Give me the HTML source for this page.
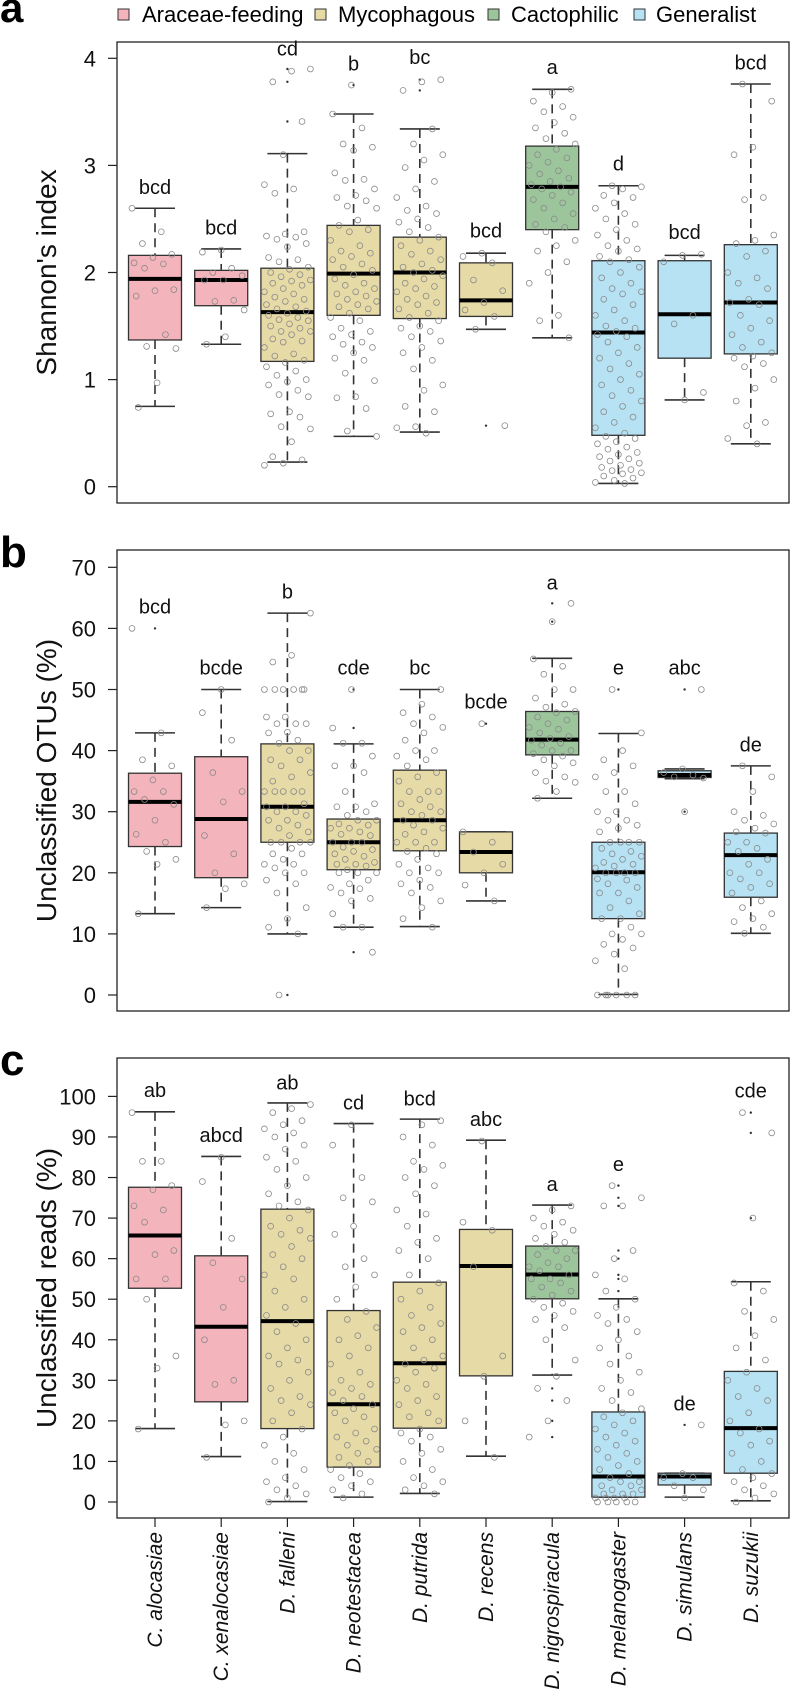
<!DOCTYPE html>
<html><head><meta charset="utf-8">
<style>
html,body{margin:0;padding:0;background:#fff;}
svg{display:block;font-family:"Liberation Sans",Arial,sans-serif;}
</style></head>
<body>
<svg id="fig" xmlns="http://www.w3.org/2000/svg" width="791" height="1694" viewBox="0 0 791 1694">
  <g font-size="22">
    <rect x="118" y="9" width="11" height="11" fill="#f4b4bc" stroke="#333"/>
    <text x="142" y="22">Araceae-feeding</text>
    <rect x="315" y="9" width="11" height="11" fill="#e6daa6" stroke="#333"/>
    <text x="338" y="22">Mycophagous</text>
    <rect x="488" y="9" width="11" height="11" fill="#9dc59c" stroke="#333"/>
    <text x="511" y="22">Cactophilic</text>
    <rect x="634" y="9" width="11" height="11" fill="#b6e2f4" stroke="#333"/>
    <text x="656" y="22">Generalist</text>
  </g>
</svg>
<script>
// ---- data ----
const categories = ["C. alocasiae","C. xenalocasiae","D. falleni","D. neotestacea","D. putrida","D. recens","D. nigrospiracula","D. melanogaster","D. simulans","D. suzukii"];
const groups = ["araceae","araceae","myco","myco","myco","myco","cacto","gen","gen","gen"];

// Panel a: Shannon's index  [whiskerLow, Q1, median, Q3, whiskerHigh]
const aLow = [0.75,1.33,0.23,0.47,0.51,1.47,1.39,0.03,0.81,0.40];
const aQ1 = [1.37,1.69,1.17,1.60,1.57,1.59,2.40,0.48,1.20,1.24];
const aMed = [1.94,1.93,1.63,1.99,2.00,1.74,2.80,1.44,1.61,1.72];
const aQ3 = [2.16,2.02,2.04,2.44,2.33,2.09,3.18,2.11,2.11,2.26];
const aHigh = [2.60,2.22,3.11,3.48,3.34,2.18,3.71,2.81,2.16,3.76];
const aLetters = ["bcd","bcd","cd","b","bc","bcd","a","d","bcd","bcd"];
const aLetterPos = [2.80,2.42,4.09,3.95,4.01,2.39,3.92,3.02,2.38,3.96];
const aOutliers = [[],[],[3.9,3.78,3.41],[3.75],[3.8,3.7],[0.57],[],[],[],[]];
const aTicks = [0,1,2,3,4];
const aPoints = [
 [2.6,2.38,2.27,2.17,2.14,2.09,2.08,2.04,1.84,1.83,1.78,1.42,1.31,1.29,0.97,0.74],
 [2.21,2.19,2.04,2.0,1.97,1.93,1.93,1.74,1.73,1.65,1.40,1.33],
 [3.9,3.88,3.78,3.41,3.1,2.82,2.78,2.74,2.38,2.36,2.34,2.33,2.31,2.27,2.24,2.14,2.12,2.1,2.05,2.03,2.0,1.98,1.96,1.93,1.92,1.9,1.88,1.85,1.82,1.8,1.77,1.75,1.73,1.7,1.68,1.66,1.64,1.62,1.6,1.58,1.56,1.55,1.52,1.5,1.48,1.45,1.45,1.42,1.38,1.36,1.35,1.3,1.24,1.22,1.18,1.16,1.12,1.08,1.04,1.0,0.98,0.95,0.9,0.86,0.84,0.7,0.68,0.65,0.56,0.54,0.42,0.28,0.25,0.22,0.2],
 [3.75,3.48,3.35,3.2,3.17,3.14,2.93,2.87,2.86,2.78,2.72,2.7,2.67,2.62,2.6,2.49,2.44,2.4,2.38,2.3,2.25,2.2,2.18,2.15,2.12,2.08,2.05,2.02,1.98,1.94,1.9,1.88,1.85,1.82,1.8,1.78,1.75,1.73,1.7,1.68,1.66,1.62,1.58,1.55,1.48,1.45,1.42,1.4,1.35,1.33,1.3,1.25,1.2,1.18,1.06,0.99,0.84,0.83,0.73,0.52,0.47],
 [3.8,3.78,3.7,3.34,3.2,3.1,3.05,2.98,2.85,2.78,2.7,2.62,2.58,2.55,2.5,2.47,2.42,2.38,2.33,2.3,2.25,2.2,2.17,2.12,2.08,2.05,2.02,2.0,1.97,1.94,1.9,1.87,1.85,1.82,1.78,1.75,1.72,1.7,1.66,1.62,1.58,1.55,1.5,1.48,1.45,1.4,1.36,1.3,1.25,1.18,1.1,0.95,0.9,0.75,0.7,0.56,0.55,0.5],
 [2.18,2.15,2.09,1.93,1.83,1.72,1.65,1.59,1.47,0.57],
 [3.71,3.68,3.6,3.55,3.5,3.45,3.4,3.35,3.3,3.25,3.2,3.15,3.1,3.07,3.03,3.0,2.95,2.92,2.88,2.85,2.82,2.8,2.78,2.75,2.72,2.68,2.65,2.6,2.55,2.5,2.45,2.42,2.38,2.3,2.25,2.2,2.1,2.0,1.9,1.6,1.55,1.39],
 [2.81,2.8,2.78,2.72,2.7,2.65,2.6,2.55,2.5,2.45,2.4,2.35,2.3,2.25,2.22,2.2,2.15,2.12,2.1,2.05,2.0,1.95,1.9,1.85,1.82,1.8,1.75,1.7,1.65,1.6,1.55,1.5,1.48,1.45,1.42,1.4,1.35,1.3,1.25,1.2,1.15,1.1,1.05,1.0,0.95,0.9,0.85,0.8,0.75,0.7,0.65,0.6,0.55,0.5,0.47,0.45,0.42,0.4,0.37,0.35,0.32,0.3,0.28,0.26,0.24,0.22,0.2,0.18,0.16,0.15,0.13,0.12,0.1,0.08,0.06,0.04,0.03],
 [2.17,2.16,2.1,1.6,1.52,0.88,0.81],
 [3.76,3.6,3.17,3.1,2.7,2.68,2.35,2.3,2.27,2.2,2.15,2.0,1.95,1.9,1.85,1.75,1.72,1.7,1.6,1.55,1.48,1.42,1.35,1.3,1.25,1.22,1.2,1.15,1.12,1.0,0.92,0.8,0.6,0.57,0.45,0.4]
];

// Panel b: Unclassified OTUs (%)
const bLow = [13.3,14.3,10.0,11.1,11.2,15.4,32.2,0.1,35.4,10.1];
const bQ1 = [24.3,19.2,25.0,20.5,23.6,20.0,39.3,12.5,35.6,16.0];
const bMed = [31.6,28.8,30.8,25.0,28.6,23.4,41.8,20.1,36.0,22.9];
const bQ3 = [36.3,39.0,41.1,28.8,36.8,26.7,46.4,25.0,36.7,26.5];
const bHigh = [42.9,50.0,62.5,41.1,50.0,26.7,55.1,42.8,37.0,37.5];
const bLetters = ["bcd","bcde","b","cde","bc","bcde","a","e","abc","de"];
const bLetterPos = [63.6,53.6,66.0,53.6,53.6,48.0,67.5,53.6,53.6,41.0];
const bOutliers = [[60],[],[0],[50,43.7,7],[],[44.4],[64.1,61.1],[50],[50,30],[]];
const bTicks = [0,10,20,30,40,50,60,70];
const bPoints = [
 [60,42.9,38.5,37.5,35.2,33.3,33.3,32,31.2,28.6,26.3,25,23.5,22.2,21.4,13.3],
 [50,46.2,41.7,36.4,33.3,31.6,26.1,23.1,20,18.2,17.4,14.3],
 [62.5,55.6,54.5,50,50,50,50,50,50,45.5,45.5,44.4,44.4,44.4,43,42.9,41.7,41.2,40,40,38.5,38.5,37.5,36.4,35.7,35,33.3,33.3,33.3,33.3,33.3,31.3,30.8,30.8,30,30,29.4,28.6,28.6,27.8,27.3,26.7,26.1,25,25,25,25,24,23.1,23.1,22.2,21.4,21.4,20.8,20,20,18.8,18.2,16.7,14.3,12.5,11.1,10,0],
 [50,43.7,41.2,41.2,39.1,37.5,37.5,36.4,33.3,31.3,30.8,30.8,30,29.4,28.6,28.6,28,27.8,27.3,27.3,26.7,26.3,26.1,25,25,25,24.2,23.8,23.5,23.1,22.7,22.2,21.7,21.4,21.4,21.1,20.5,20,20,20,18.8,18.2,17.6,17.4,16.7,15.8,15.4,13.3,11.1,11.1,7],
 [50,47.6,46.2,45.5,44.4,43.8,42.9,41.7,40,40,39.1,38.5,37.5,36.4,35.7,35,33.3,33.3,33.3,32,31.3,30.8,30,30,29.4,28.6,28.6,27.8,27.3,26.7,26.3,25,25,25,24,23.5,23.1,22.2,21.4,20.8,20,20,18.8,18.2,17.6,16.7,15.4,14.3,12.5,11.1],
 [44.4,26.7,25,23.4,21.4,20,18,15.4],
 [64.1,61.1,55,53.8,52.5,50,50,48.6,47.6,47.1,46.4,46.2,45.5,45,44.4,43.8,43.5,42.9,42.3,42,41.7,41.2,40.9,40,40,39.5,39.1,38.5,38,37.5,36.4,35.7,35,34.8,33.3,32.2],
 [50,42.9,40,38.5,37.5,36.4,35.7,33.3,33.3,31.3,30,30,28.6,28.6,27.8,27.3,26.7,25,25,25,25,24,23.5,23.1,22.7,22.2,21.7,21.4,21.1,20.8,20,20,20,20,19,18.8,18.2,17.6,16.7,16.7,15.4,14.3,13.3,12.5,12.5,11.1,10,10,9.1,8.3,7.7,6.7,5.6,4.3,0,0,0,0,0,0],
 [50,37,36.4,36,35.7,35.5,30],
 [37.5,35.7,33.3,30,29.4,28.6,28,27.3,26.7,26.5,25,25,24,23.5,22.2,21.4,20,20,19,18.2,17.6,16.7,15.4,14.3,13.3,12.5,12,11.1,10.1]
];

// Panel c: Unclassified reads (%)
const cLow = [18.1,11.2,0.1,1.2,2.1,11.3,31.3,1.2,1.2,0.3];
const cQ1 = [52.7,24.7,18.1,8.6,18.2,31.1,50.1,1.2,4.2,7.1];
const cMed = [65.7,43.2,44.6,24.1,34.2,58.2,56.1,6.3,6.3,18.2];
const cQ3 = [77.6,60.7,72.2,47.2,54.2,67.2,63.1,22.2,7.1,32.2];
const cHigh = [96.2,85.2,98.4,93.3,94.4,89.2,73.2,50.1,7.1,54.3];
const cLetters = ["ab","abcd","ab","cd","bcd","abc","a","e","de","cde"];
const cLetterPos = [101.6,90.5,103.4,98.5,99.5,94.4,78.4,83.3,24.3,101.5];
const cOutliers = [[],[],[],[],[],[],[28,25,20,16],[78,75,73,62,60,56,55,52],[19],[96,91,70]];
const cTicks = [0,10,20,30,40,50,60,70,80,90,100];
const cPoints = [
 [96,84,84,78,77,73,72,69,62,61,55,55,50,36,33,18],
 [85,79,65,59,55,48,40,30,29,20,19,11],
 [98,97,96,94,93,92,91,90,88,87,85,84,82,80,78,76,74,73,72,70,68,67,66,65,63,61,60,58,56,55,52,50,48,46,44,42,40,38,36,35,34,32,30,28,26,25,24,22,20,18,16,14,12,10,8,6,5,4,3,2,1,0],
 [93,88,80,75,74,68,66,60,58,56,53,50,47,45,43,41,40,38,36,34,32,30,29,28,27,26,25,24,23,22,21,20,18,17,16,15,14,13,12,11,10,9,8,7,6,5,4,3,2,1],
 [94,93,90,88,84,83,82,80,78,76,72,71,68,65,64,62,60,56,54,52,50,48,46,44,43,42,40,38,36,35,34,33,32,30,29,28,26,25,24,22,21,20,18,17,16,15,13,12,10,8,6,5,4,3,2],
 [89,69,67,58,36,31,20,11],
 [73,72,70,69,68,67,66,65,64,63,62,62,61,60,59,58,58,57,56,55,55,54,53,52,51,50,49,48,47,46,45,43,40,35,31,28,25,20,16],
 [78,75,73,73,62,60,56,55,52,50,48,46,45,44,42,40,38,36,34,32,30,28,27,25,23,22,21,20,19,18,17,16,15,14,13,12,11,10,9,8,7,6,5,5,4,4,3,3,2,2,2,1,1,1,1,0,0,0,0,0],
 [19,7,6,6,4,3,1],
 [96,91,70,54,52,47,45,41,38,35,32,30,28,26,25,22,20,18,17,15,14,12,10,8,7,6,5,4,3,2,1,0]
];

// ---- drawing ----
const NS = "http://www.w3.org/2000/svg";
const svg = document.getElementById("fig");
const colors = {araceae:"#f4b4bc", myco:"#e6daa6", cacto:"#9dc59c", gen:"#b6e2f4"};
const X0 = 117, X1 = 789;
function xScale(i){ return 155 + 66.2 * i; }
function mk(tag, attrs, parent){
  const e = document.createElementNS(NS, tag);
  for (const k in attrs) e.setAttribute(k, attrs[k]);
  (parent || svg).appendChild(e);
  return e;
}

function drawPanel(p){
  const yS = v => p.zero - v * p.k;
  const g = mk("g", {});
  
  

  const lab = mk("text", {x: 0, y: p.letterY, "font-size": p.letterSize, "font-weight": "bold"}, g);
  lab.textContent = p.letter;
  
  

  const frame = mk("rect", {x: X0, y: p.top, width: X1 - X0, height: p.bot - p.top, fill: "none", stroke: "#222", "stroke-width": 1.3}, g);
  
  

  p.ticks.forEach(t => {
    const y = yS(t);
    const tl = mk("line", {x1: 108, x2: X0, y1: y, y2: y, stroke: "#222", "stroke-width": 1.2}, g);
    
    
    const tt = mk("text", {x: 96, y: y + 8, "font-size": 22, "text-anchor": "end", fill: "#111"}, g);
    tt.textContent = t;
    
    
  });

  const cy = (p.top + p.bot) / 2;
  const title = mk("text", {x: 56, y: cy, "font-size": 28, "text-anchor": "middle", transform: "rotate(-90 56 " + cy + ")", fill: "#111"}, g);
  title.textContent = p.title;
  
  

  categories.forEach((c, i) => {
    const cx = xScale(i);
    const bw = 26.5, cw = 20;
    const bg = mk("g", {}, g);
    
    
    const w1 = mk("line", {x1: cx, x2: cx, y1: yS(p.high[i]), y2: yS(p.q3[i]), stroke: "#333", "stroke-width": 1.6, "stroke-dasharray": "9 6"}, bg);
    
    
    const w2 = mk("line", {x1: cx, x2: cx, y1: yS(p.q1[i]), y2: yS(p.low[i]), stroke: "#333", "stroke-width": 1.6, "stroke-dasharray": "9 6"}, bg);
    
    
    const cap1 = mk("line", {x1: cx - cw, x2: cx + cw, y1: yS(p.high[i]), y2: yS(p.high[i]), stroke: "#333", "stroke-width": 1.6}, bg);
    
    
    const cap2 = mk("line", {x1: cx - cw, x2: cx + cw, y1: yS(p.low[i]), y2: yS(p.low[i]), stroke: "#333", "stroke-width": 1.6}, bg);
    
    
    const r = mk("rect", {x: cx - bw, y: yS(p.q3[i]), width: bw * 2, height: Math.max(1, yS(p.q1[i]) - yS(p.q3[i])), fill: colors[groups[i]], stroke: "#333", "stroke-width": 1.3}, bg);
    
    
    const md = mk("line", {x1: cx - bw, x2: cx + bw, y1: yS(p.med[i]), y2: yS(p.med[i]), stroke: "#000", "stroke-width": 4}, bg);
    
    
    p.out[i].forEach(v => {
      const o = mk("circle", {cx: cx, cy: yS(v), r: 1.2, fill: "#333"}, bg);
      
      
    });
    p.pts[i].forEach((v, j) => {
      const jit = (((j * 37 + i * 11) % 23) - 11) / 11 * 23;
      const pt = mk("circle", {cx: cx + jit, cy: yS(v), r: 2.9, fill: "none", stroke: "#8a8a8a", "stroke-width": 0.8}, bg);
      
      
    });
    const lt = mk("text", {x: cx, y: yS(p.lpos[i]) + 7, "font-size": 20, "text-anchor": "middle", fill: "#111"}, bg);
    lt.textContent = p.letters[i];
    
    
  });
}

drawPanel({name:"shannon", letter:"a", letterY:22, letterSize:42, top:42, bot:503, zero:486.7, k:107.1, ticks:aTicks, title:"Shannon's index",
  low:aLow, q1:aQ1, med:aMed, q3:aQ3, high:aHigh, letters:aLetters, lpos:aLetterPos, out:aOutliers, pts:aPoints});
drawPanel({name:"otus", letter:"b", letterY:567, letterSize:44, top:550, bot:1011, zero:995, k:6.11, ticks:bTicks, title:"Unclassified OTUs (%)",
  low:bLow, q1:bQ1, med:bMed, q3:bQ3, high:bHigh, letters:bLetters, lpos:bLetterPos, out:bOutliers, pts:bPoints});
drawPanel({name:"reads", letter:"c", letterY:1075, letterSize:44, top:1058, bot:1518, zero:1502, k:4.056, ticks:cTicks, title:"Unclassified reads (%)",
  low:cLow, q1:cQ1, med:cMed, q3:cQ3, high:cHigh, letters:cLetters, lpos:cLetterPos, out:cOutliers, pts:cPoints});

categories.forEach((c, i) => {
  const cx = xScale(i);
  const t = mk("line", {x1: cx, x2: cx, y1: 1518, y2: 1527, stroke: "#222", "stroke-width": 1.2});
  
  
  const tx = mk("text", {x: cx + 7, y: 1532, "font-size": 21, "font-style": "italic", "text-anchor": "end", transform: "rotate(-90 " + (cx + 7) + " 1532)", fill: "#111"});
  tx.textContent = c;
  
  
});
</script>
</body></html>
